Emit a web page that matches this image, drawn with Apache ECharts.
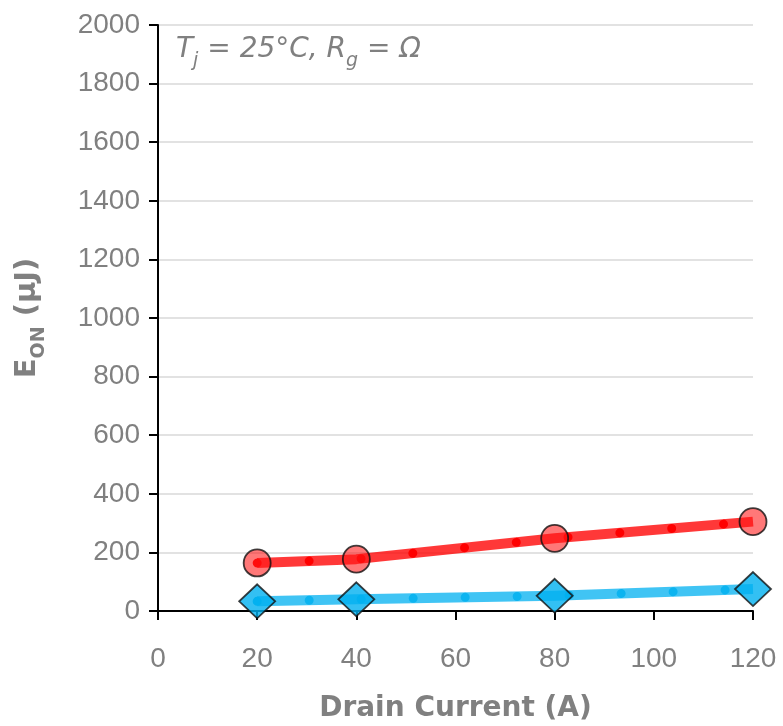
<!DOCTYPE html>
<html><head><meta charset="utf-8">
<script src="https://cdn.jsdelivr.net/npm/echarts@6/dist/echarts.min.js"></script>
<style>html,body{margin:0;padding:0;background:#fff}#c{width:783px;height:726px}</style>
</head><body><div id="c"></div>
<script>
const drainCurrent = [20, 40, 80, 120];
const eonRed = [164, 177, 248, 305];
const eonBlue = [33, 40, 52, 75];
const xTicks = [0, 20, 40, 60, 80, 100, 120];
const yTicks = [0, 200, 400, 600, 800, 1000, 1200, 1400, 1600, 1800, 2000];

const pairs = (xs, ys) => xs.map((x, i) => [x, ys[i]]);
const gray = '#808080';
const numFont = "'Liberation Sans', sans-serif";
const boldFont = "'DejaVu Sans', sans-serif";

const chart = echarts.init(document.getElementById('c'), null, {renderer: 'canvas'});
chart.setOption({
  animation: false,
  grid: {left: 158, right: 30, top: 25, bottom: 115, containLabel: false, outerBoundsMode: 'none'},
  xAxis: {
    type: 'value', min: xTicks[0], max: xTicks[xTicks.length - 1], interval: 20,
    name: 'Drain Current (A)', nameLocation: 'middle', nameGap: 84,
    nameTextStyle: {color: gray, fontSize: 28, fontWeight: 'bold', fontFamily: boldFont},
    axisLine: {lineStyle: {color: '#000', width: 2}},
    axisTick: {show: true, length: 9, lineStyle: {color: '#000', width: 2}},
    axisLabel: {color: gray, fontSize: 28, fontFamily: numFont, margin: 34, formatter: v => String(v)},
    splitLine: {show: false}
  },
  yAxis: {
    type: 'value', min: yTicks[0], max: yTicks[yTicks.length - 1], interval: 200,
    name: '{a|E}{b|ON}{a| (µJ)}', nameLocation: 'middle', nameGap: 116, nameRotate: 90,
    nameTextStyle: {
      rich: {
        a: {color: gray, fontSize: 29, fontWeight: 'bold', fontFamily: boldFont, verticalAlign: 'bottom'},
        b: {color: gray, fontSize: 19, fontWeight: 'bold', fontFamily: boldFont, verticalAlign: 'bottom', padding: [0, 0, -7, 0]}
      }
    },
    axisLine: {show: true, lineStyle: {color: '#000', width: 2}},
    axisTick: {show: true, length: 9, lineStyle: {color: '#000', width: 2}},
    axisLabel: {color: gray, fontSize: 28, fontFamily: numFont, margin: 18, formatter: v => String(v)},
    splitLine: {show: true, lineStyle: {color: '#d9d9d9', width: 1.5}}
  },
  graphic: [{
    type: 'text', left: 176, top: 36, z: 10,
    style: {
      text: '{i|T}{s|j}{i| = 25°C, R}{s|g}{i| = Ω}',
      rich: {
        i: {fill: gray, fontSize: 28, fontStyle: 'italic', fontFamily: boldFont, verticalAlign: 'bottom'},
        s: {fill: gray, fontSize: 19, fontStyle: 'italic', fontFamily: boldFont, verticalAlign: 'bottom', padding: [0, 0, -7, 0]}
      }
    }
  }],
  series: [
    {type: 'line', data: pairs(drainCurrent, eonRed), smooth: false, symbol: 'none', z: 2,
      lineStyle: {color: 'rgba(255,0,0,0.78)', width: 10, join: 'round'}},
    {type: 'line', data: pairs(drainCurrent, eonRed), smooth: false, symbol: 'none', z: 3,
      lineStyle: {color: '#f00', width: 9, type: [0.01, 52], cap: 'round'}},
    {type: 'line', data: pairs(drainCurrent, eonBlue), smooth: false, symbol: 'none', z: 2,
      lineStyle: {color: 'rgba(0,176,240,0.75)', width: 10, join: 'round'}},
    {type: 'line', data: pairs(drainCurrent, eonBlue), smooth: false, symbol: 'none', z: 3,
      lineStyle: {color: '#0cb4f0', width: 9, type: [0.01, 52], cap: 'round'}},
    {type: 'scatter', data: pairs(drainCurrent, eonRed), symbol: 'circle', symbolSize: 27, z: 5,
      itemStyle: {color: 'rgba(255,20,20,0.72)', borderColor: '#111', borderWidth: 1.8}},
    {type: 'scatter', data: pairs(drainCurrent, eonBlue), symbol: 'diamond', symbolSize: [36, 34], z: 5,
      itemStyle: {color: '#00b0f0', borderColor: '#111', borderWidth: 1.8}}
  ]
});
</script></body></html>
